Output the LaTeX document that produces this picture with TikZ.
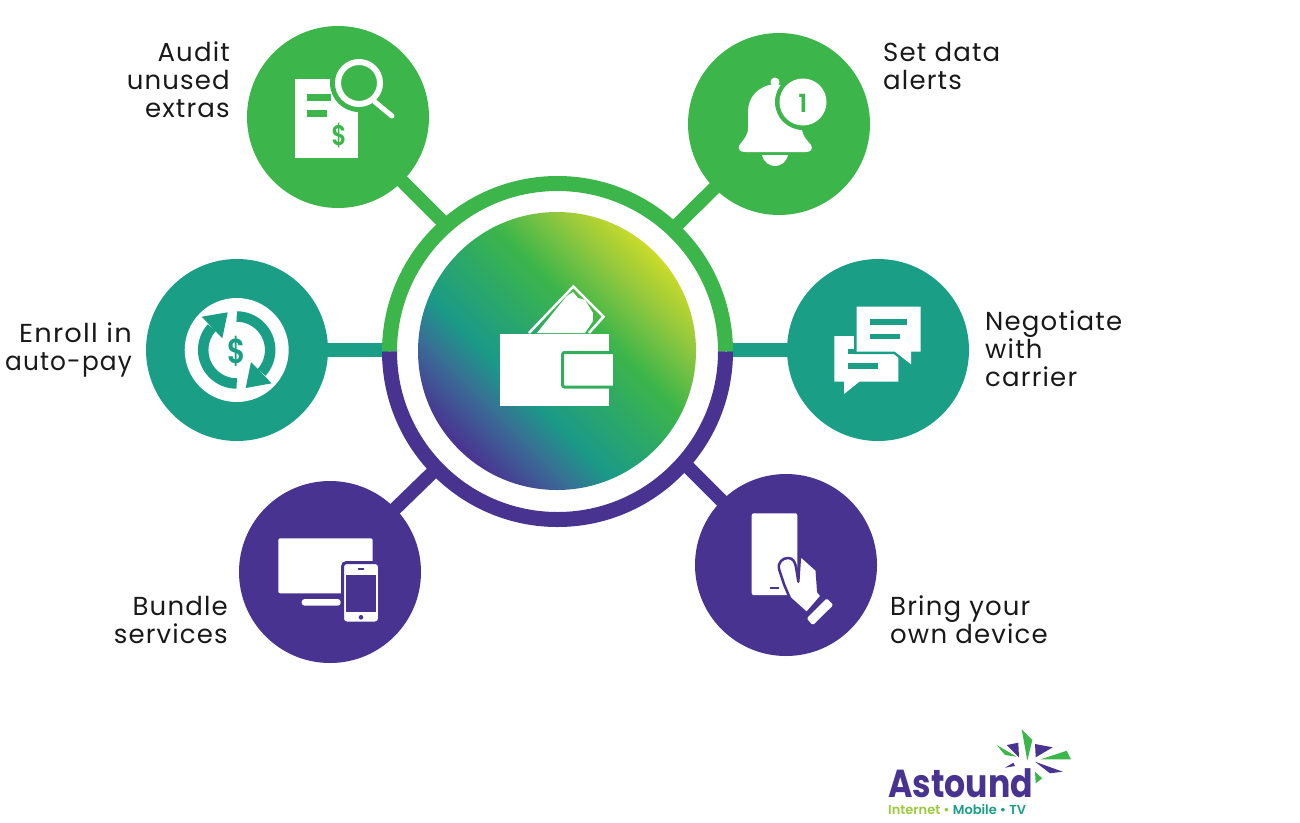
\documentclass[tikz,border=0pt]{standalone}
\usepackage{fontspec}
\setmainfont{Poppins}
\newfontfamily\labelf[LetterSpace=4.5]{Poppins}
\newfontfamily\semif{Poppins SemiBold}
\newfontfamily\boldf{Poppins Bold}
\definecolor{gr}{HTML}{3CB54A}
\definecolor{te}{HTML}{1A9E85}
\definecolor{pu}{HTML}{483391}
\definecolor{lime}{HTML}{9CC93B}
\definecolor{gA}{HTML}{4A3592}
\definecolor{gB}{HTML}{3A6A96}
\definecolor{gC}{HTML}{1A9A88}
\definecolor{gD}{HTML}{3CB54A}
\definecolor{gE}{HTML}{8CC63F}
\definecolor{gF}{HTML}{CBDB2A}
\pgfdeclareverticalshading{hubgrad}{100bp}{color(0bp)=(gA);color(25.5bp)=(gA);color(33.5bp)=(gB);color(40.6bp)=(gC);color(58bp)=(gD);color(67bp)=(gE);color(75bp)=(gF);color(100bp)=(gF)}
\tikzset{
 spoke/.style={circle,inner sep=0pt,minimum size=182pt},
 label/.style={font=\labelf\fontsize{26}{28}\selectfont,inner sep=0pt,text=black!90},
 link/.style={line width=13.5pt,shorten <=-1pt},
 dollar/.style={font=\semif\fontsize{#1}{#1}\selectfont,inner sep=0pt},
}
\begin{document}
\begin{tikzpicture}[x=1pt,y=-1pt]
\useasboundingbox (0,0) rectangle (1300,822);
% hub
\node[circle,inner sep=0pt,minimum size=278pt,shading=hubgrad,shading angle=-45] (hub) at (557,351) {};
% spokes
\node[spoke,fill=gr] (audit) at (338,117) {};
\node[spoke,fill=gr] (alerts) at (779,124) {};
\node[spoke,fill=te] (enroll) at (237,350) {};
\node[spoke,fill=te] (nego) at (878,350) {};
\node[spoke,fill=pu] (bundle) at (330,572) {};
\node[spoke,fill=pu] (bring) at (786,565) {};
\coordinate (ra) at (443,222);
\coordinate (rb) at (676,226);
\coordinate (rc) at (389,350);
\coordinate (rd) at (727,350);
\coordinate (re) at (435,470);
\coordinate (rf) at (683,462);
\draw[link,gr] (audit) -- (ra);
\draw[link,gr] (alerts) -- (rb);
\draw[link,te] (enroll) -- (rc);
\draw[link,te] (nego) -- (rd);
\draw[link,pu] (bundle) -- (re);
\draw[link,pu] (bring) -- (rf);
\coordinate (ringc) at (557.5,351.5);
\draw[gr,line width=15pt] (ringc) ++(180:168) arc[start angle=180,end angle=360,radius=168];
\draw[pu,line width=15pt] (ringc) ++(0:168) arc[start angle=0,end angle=180,radius=168];
% labels
\node[label,align=right,anchor=east] (l1) at (230,80) {Audit\\unused\\extras};
\node[label,align=left,anchor=west] (l2) at (883,66) {Set data\\alerts};
\node[label,align=right,anchor=east] (l3) at (132,350) {\scalebox{1.05}[1]{Enroll in}\\\scalebox{.955}[1]{auto-pay}};
\node[label,align=left,anchor=west] (l4) at (985,349) {Negotiate\\with\\carrier};
\node[label,align=right,anchor=east] (l5) at (228,620) {Bundle\\services};
\node[label,align=left,anchor=west] (l6) at (890,620) {Bring your\\own device};
% audit icon
\fill[white] (295,79) rectangle (358,158);
\fill[gr] (359,83) circle (29);
\draw[white,line width=6pt] (359,83) circle (21);
\draw[white,line width=5pt,line cap=round] (375,102) -- (392,116);
\fill[gr] (307,94) rectangle (331,101);
\fill[gr] (307,110) rectangle (327,117);
\node[dollar=27,text=gr] (d1) at (339,136) {\scalebox{.85}[1.05]{\$}};
% bell icon
\fill[white] (775,84) .. controls (757,86) and (748,98) .. (748,112) -- (748,128) .. controls (748,136) and (743,140) .. (739.5,145) .. controls (737,149) and (740,152) .. (745,152) -- (806,152) .. controls (811,152) and (813,149) .. (811,145) .. controls (807,140) and (802,136) .. (802,128) -- (802,112) .. controls (802,98) and (793,86) .. (775,84) -- cycle;
\fill[gr] (803,102) circle (28);
\fill[white] (803,102) circle (23.5);
\fill[white] (775,82) circle (4.5);
\fill[white] (762,155) -- (788,155) .. controls (786,163) and (780,166) .. (775,166) .. controls (770,166) and (764,163) .. (762,155) -- cycle;
\node[dollar=25,text=gr] (n1) at (803,103) {1};
% enroll icon
\fill[white] (236.7,350) circle (52);
\draw[te,line width=10.5pt] (236.7,350) ++(90:33.5) arc[start angle=90,end angle=222,radius=33.5];
\draw[te,line width=10.5pt] (236.7,350) ++(270:33.5) arc[start angle=270,end angle=402,radius=33.5];
\fill[te] (201.7,316.7) -- (227.7,312.3) -- (222.3,338.3) -- cycle;
\fill[te] (271.7,383.3) -- (245.7,388) -- (251,362) -- cycle;
\node[dollar=33,text=te] (d2) at (236.7,351) {\scalebox{.85}[1.05]{\$}};
% negotiate icon
\fill[white] (834.3,336) -- (898.3,336) -- (898.3,381.7) -- (859.3,381.7) -- (844,394) -- (844,381.7) -- (834.3,381.7) -- cycle;
\fill[te] (848,363.3) rectangle (878,369);
\fill[te] (848,349) rectangle (858,354);
\draw[te,fill=white,line width=5pt] (856.7,306.7) -- (920.7,306.7) -- (920.7,351.7) -- (911,351.7) -- (911,364.3) -- (895,351.7) -- (856.7,351.7) -- cycle;
\fill[white] (856.7,306.7) -- (920.7,306.7) -- (920.7,351.7) -- (911,351.7) -- (911,364.3) -- (895,351.7) -- (856.7,351.7) -- cycle;
\fill[te] (870.3,319) rectangle (907.3,324.7);
\fill[te] (870.3,333.7) rectangle (900.3,339.3);
% bundle icon
\fill[white,rounded corners=2pt] (278.3,538.3) rectangle (372.7,593.3);
\fill[white,rounded corners=3pt] (301.7,599) rectangle (340.7,605.7);
\draw[pu,fill=white,line width=3pt,rounded corners=4pt] (342.5,562.5) rectangle (379.5,623);
\fill[pu] (346.3,575) rectangle (376.3,611.7);
\fill[pu] (358.3,568) rectangle (364,570);
\fill[pu] (361,617.3) circle (2.3);
% bring icon
\fill[white,rounded corners=2pt] (751.7,513.3) rectangle (797.3,595);
\fill[pu] (770,586.7) rectangle (779,589);
\draw[pu,fill=white,line width=2.5pt,line join=round] (800,555) -- (816.7,570) -- (818.3,591.7) -- (821.7,596) -- (806.7,613.3) -- (790,598.3) -- (784.3,585) -- (779.3,570) .. controls (777,562) and (783,558) .. (788,558) .. controls (793,558) and (795,562) .. (796,567) -- (798.3,581.7) -- cycle;
\fill[white,rounded corners=1.5pt] (806.7,618.3) -- (826.7,598.3) -- (833.3,605) -- (812.7,625.3) -- cycle;
% wallet icon
\draw[white,line width=2.5pt] (529,333) -- (573.3,286.5) -- (603.5,316.7) -- (589,333);
\fill[white] (537,333) -- (566.7,296) -- (573,292) -- (578,298) -- (585,300) -- (593,313) -- (592.7,321.7) -- (585,333) -- cycle;
\fill[white] (500,334) rectangle (609.3,405.7);
\fill[white] (563,352.5) rectangle (613.3,387);
\draw[gr!70!te,line width=3pt,rounded corners=2pt] (613.3,352.5) -- (562.5,352.5) -- (562.5,387) -- (613.3,387);
% logo
\foreach \c/\p [count=\i] in {
 gr/{(1021.7,729.3) -- (1032.3,740) -- (1027.3,760.7)},
 pu/{(1006.7,745) -- (1018.3,742.7) -- (1019,757.3)},
 gr/{(996.7,745) -- (1016.7,756.7) -- (1005,755)},
 pu/{(1035,744) -- (1052.7,747.3) -- (1035.7,757.3)},
 gr/{(1066.7,750.7) -- (1071,759.3) -- (1040.7,759.3)},
 pu/{(1035,761.7) -- (1062.7,771.7) -- (1050,773.3)},
 gr/{(1035,771.7) -- (1042.3,778.3) -- (1035.7,783.3)},
 pu/{(1005,767.7) -- (1013.3,762.7) -- (1015,766)}}
 {\fill[\c] \p -- cycle;}
\node[inner sep=0pt,anchor=base west,text=pu,font=\boldf\fontsize{39}{39}\selectfont] (brand) at (888,797) {\scalebox{0.85}[1]{Astound}};
\node[inner sep=0pt,anchor=base west,font=\semif\fontsize{13}{13}\selectfont] (tag) at (888,814) {\textcolor{lime}{Internet • }\textcolor{te}{Mobile • TV}};
\end{tikzpicture}
\end{document}
